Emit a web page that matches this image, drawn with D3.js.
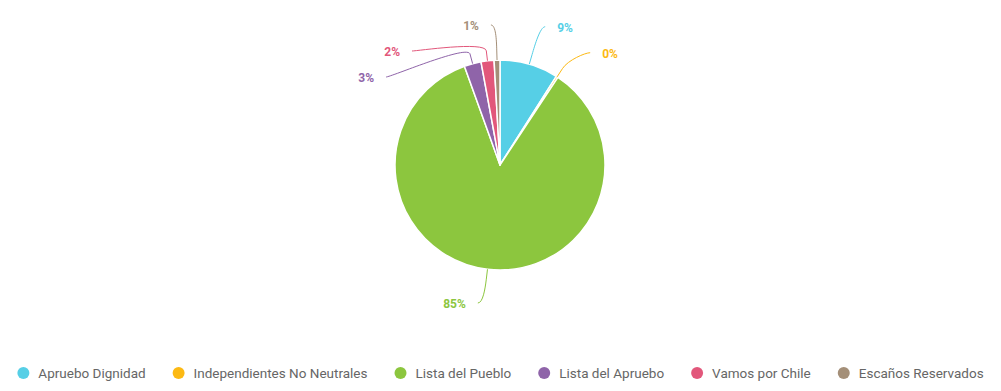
<!DOCTYPE html>
<html><head><meta charset="utf-8">
<script src="https://cdn.jsdelivr.net/npm/d3@7"></script>
<style>
html,body{margin:0;padding:0;background:#fff;}
svg{display:block;font-family:Roboto,"Noto Sans",sans-serif;}
</style></head>
<body><svg id="c" width="1001" height="391"></svg>
<script>
const categories = ["Apruebo Dignidad","Independientes No Neutrales","Lista del Pueblo","Lista del Apruebo","Vamos por Chile","Escaños Reservados"];
const values = [9.0, 0.3, 85.2, 2.6, 2.0, 0.9];
const colors = ["#56cfe6","#fcb913","#8cc63e","#8f64a9","#e2577b","#a48f78"];

const W = 1001, H = 391;
const cx = 500, cy = 165, r = 105, labelR = 144, spacing = 26, pad = 12;
const yMin = -140, yMax = 138;
const svg = d3.select("#c");
const total = d3.sum(values);
const data = categories.map((c,i)=>({name:c, value:values[i], color:colors[i]}));

const pie = d3.pie().value(d=>d.value).sort(null);
const arcs = pie(data);
const arc = d3.arc().innerRadius(0).outerRadius(r);

const g = svg.append("g").attr("transform",`translate(${cx},${cy})`);
g.selectAll("path.slice").data(arcs).enter().append("path")
  .attr("class","slice").attr("d",arc).attr("fill",d=>d.data.color)
  .attr("stroke","#fff").attr("stroke-width",1.5).attr("stroke-linejoin","round");

// label layout (Highcharts-like)
const pos = (a, rad) => [rad*Math.sin(a), -rad*Math.cos(a)];
const items = arcs.map(d=>{
  const a = (d.startAngle+d.endAngle)/2;
  const p = pos(a,labelR);
  return {d, a, right: a < Math.PI, nx: p[0], ny: p[1]};
});
function distribute(list){
  list.sort((p,q)=>p.ny-q.ny);
  list.forEach((t,i)=>{
    let y = Math.max(yMin, Math.min(yMax, t.ny));
    if(i>0 && y < list[i-1].y + spacing){ y = list[i-1].y + spacing; t.moved = true; }
    t.y = y;
  });
}
distribute(items.filter(t=>t.right));
distribute(items.filter(t=>!t.right));
items.forEach(t=>{
  if(t.moved){
    const dx = Math.sqrt(Math.max(0, labelR*labelR - t.y*t.y));
    t.x = t.right ? dx : -dx;
  } else {
    t.x = t.nx + (t.right ? 5 : -5);
  }
});

const lg = g.append("g");
items.forEach(t=>{
  const touch = pos(t.a, r);
  const brk = pos(t.a, r + 10);
  const lx = t.x, ly = t.y;
  const path = `M${lx},${ly} C${lx + (t.right?-5:5)},${ly} ${2*brk[0]-touch[0]},${2*brk[1]-touch[1]} ${brk[0]},${brk[1]} L${touch[0]},${touch[1]}`;
  lg.append("path").attr("d",path).attr("fill","none").attr("stroke",t.d.data.color).attr("stroke-width",1);
  lg.append("text").attr("x", t.right ? lx+pad : lx-pad).attr("y", ly+1)
    .attr("dy","0.35em").attr("text-anchor", t.right?"start":"end")
    .attr("fill",t.d.data.color).attr("font-size","12px").attr("font-weight","bold")
    .text(Math.round(t.d.data.value/total*100)+"%");
});

// legend
const leg = svg.append("g");
const legItems = leg.selectAll("g").data(data).enter().append("g");
legItems.append("circle").attr("cx",6).attr("cy",0).attr("r",6).attr("fill",d=>d.color);
legItems.append("text").attr("x",21).attr("y",0).attr("dy","0.35em")
  .attr("font-size","13.5px").attr("fill","#666").text(d=>d.name);
let xoff = 0;
const gapItems = 27;
legItems.each(function(){
  const w = 21 + d3.select(this).select("text").node().getComputedTextLength();
  d3.select(this).attr("transform",`translate(${xoff},0)`);
  xoff += w + gapItems;
});
const totalW = xoff - gapItems;
leg.attr("transform",`translate(${(W-totalW)/2},373)`);
</script></body></html>
